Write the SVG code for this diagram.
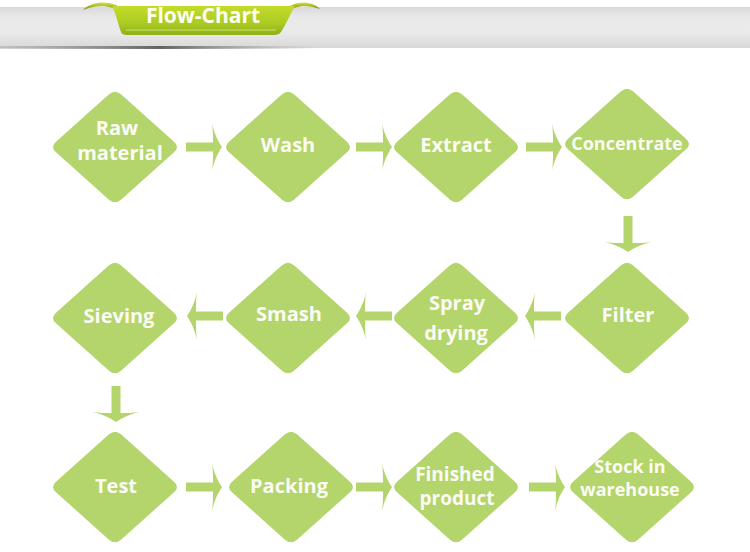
<svg xmlns="http://www.w3.org/2000/svg" xmlns:xlink="http://www.w3.org/1999/xlink" width="750" height="552" viewBox="0 0 750 552">
<style>
.dia{fill:#b3d56b}
.lbl{font-family:"Open Sans","Liberation Sans",sans-serif;font-weight:bold;font-size:20px;fill:#fbfbf4;text-anchor:middle}
.sm{font-size:19px}
.arr{fill:#b3d56b}
.title{font-family:"Open Sans","Liberation Sans",sans-serif;font-weight:bold;font-size:21px;fill:#fdfdf0;text-anchor:middle}
</style>
<defs>
<linearGradient id="bar" x1="0" y1="0" x2="0" y2="1">
<stop offset="0" stop-color="#d9d9d9"/>
<stop offset="0.25" stop-color="#e9e9e9"/>
<stop offset="0.6" stop-color="#ebebeb"/>
<stop offset="1" stop-color="#d8d8d8"/>
</linearGradient>
<linearGradient id="shadow" x1="0" y1="0" x2="1" y2="0">
<stop offset="0" stop-color="#9a9a9a" stop-opacity="0.4"/>
<stop offset="0.5" stop-color="#555" stop-opacity="0.9"/>
<stop offset="1" stop-color="#999" stop-opacity="0"/>
</linearGradient>
<linearGradient id="rib" x1="0" y1="0" x2="0" y2="1">
<stop offset="0" stop-color="#c4dc2a"/>
<stop offset="0.6" stop-color="#aacb22"/>
<stop offset="1" stop-color="#8fb01a"/>
</linearGradient>
<linearGradient id="curl" x1="0" y1="0" x2="0" y2="1">
<stop offset="0" stop-color="#d8e24a"/>
<stop offset="1" stop-color="#7f8c10"/>
</linearGradient>
<path id="d" d="M -6,-52.7 Q 0,-58 6,-52.7 L 59,-5.3 Q 65,0 59,5.3 L 6,52.7 Q 0,58 -6,52.7 L -59,5.3 Q -65,0 -59,-5.3 Z"/>
<path id="a" d="M -36,-4.5 L -9,-4.5 C -9,-11 -9,-17 -10,-24 C -8,-14 -4,-6 0,0 C -4,6 -8,14 -10,24 C -9,17 -9,11 -9,4.5 L -36,4.5 Z"/>
</defs>

<g id="header">
<rect x="0" y="7" width="750" height="41" fill="url(#bar)"/>
<rect x="0" y="46" width="320" height="3" fill="url(#shadow)"/>
<path d="M 83,10 C 90,2 106,0 118,6 L 113,8 C 104,5 92,6 83,10 Z" fill="url(#curl)"/>
<path d="M 290,6 C 300,0 314,2 320,9 C 312,6 302,5 294,8 Z" fill="url(#curl)"/>
<path d="M 112,6 L 295,6 C 290,14 286,25 281,32 Q 279,35 274,35 L 127,35 Q 122,35 121,32 C 118,24 116,14 112,6 Z" fill="url(#rib)"/>
<path d="M 126,30 L 276,30" stroke="#dceb86" stroke-width="1.2" opacity="0.8"/>
<text class="title" x="203" y="23">Flow-Chart</text>
</g>

<g id="connectors">
<use xlink:href="#a" class="arr" transform="translate(222,147)"/>
<use xlink:href="#a" class="arr" transform="translate(392,147)"/>
<use xlink:href="#a" class="arr" transform="translate(562,147)"/>
<use xlink:href="#a" class="arr" transform="translate(628,252) rotate(90)"/>
<use xlink:href="#a" class="arr" transform="translate(525,316) rotate(180)"/>
<use xlink:href="#a" class="arr" transform="translate(356,316) rotate(180)"/>
<use xlink:href="#a" class="arr" transform="translate(187,316) rotate(180)"/>
<use xlink:href="#a" class="arr" transform="translate(116,422) rotate(90)"/>
<use xlink:href="#a" class="arr" transform="translate(222,487)"/>
<use xlink:href="#a" class="arr" transform="translate(392,487)"/>
<use xlink:href="#a" class="arr" transform="translate(565,487)"/>
</g>

<g id="n-raw"><use xlink:href="#d" class="dia" x="115" y="147"/><text class="lbl" x="117" y="135">Raw</text><text class="lbl" x="120" y="160">material</text></g>
<g id="n-wash"><use xlink:href="#d" class="dia" x="288" y="147"/><text class="lbl" x="288" y="152">Wash</text></g>
<g id="n-extract"><use xlink:href="#d" class="dia" x="456" y="147"/><text class="lbl" x="456" y="152">Extract</text></g>
<g id="n-concentrate"><use xlink:href="#d" class="dia" x="627" y="144"/><text class="lbl" x="627" y="150" style="font-size:18px">Concentrate</text></g>

<g id="n-filter"><use xlink:href="#d" class="dia" x="627" y="318"/><text class="lbl" x="628" y="322">Filter</text></g>
<g id="n-spray"><use xlink:href="#d" class="dia" x="456" y="318"/><text class="lbl" x="457" y="310">Spray</text><text class="lbl" x="456" y="340">drying</text></g>
<g id="n-smash"><use xlink:href="#d" class="dia" x="288" y="318"/><text class="lbl" x="289" y="321">Smash</text></g>
<g id="n-sieving"><use xlink:href="#d" class="dia" x="115" y="318"/><text class="lbl" x="119" y="323">Sieving</text></g>

<g id="n-test"><use xlink:href="#d" class="dia" x="115" y="487"/><text class="lbl" x="116" y="493">Test</text></g>
<g id="n-packing"><use xlink:href="#d" class="dia" x="291" y="487"/><text class="lbl" x="289" y="493">Packing</text></g>
<g id="n-finished"><use xlink:href="#d" class="dia" x="456" y="487"/><text class="lbl sm" x="455" y="481">Finished</text><text class="lbl sm" x="457" y="505">product</text></g>
<g id="n-stock"><use xlink:href="#d" class="dia" x="632" y="487"/><text class="lbl" x="630" y="473" style="font-size:18px">Stock in</text><text class="lbl" x="630" y="496" style="font-size:18px">warehouse</text></g>
</svg>
